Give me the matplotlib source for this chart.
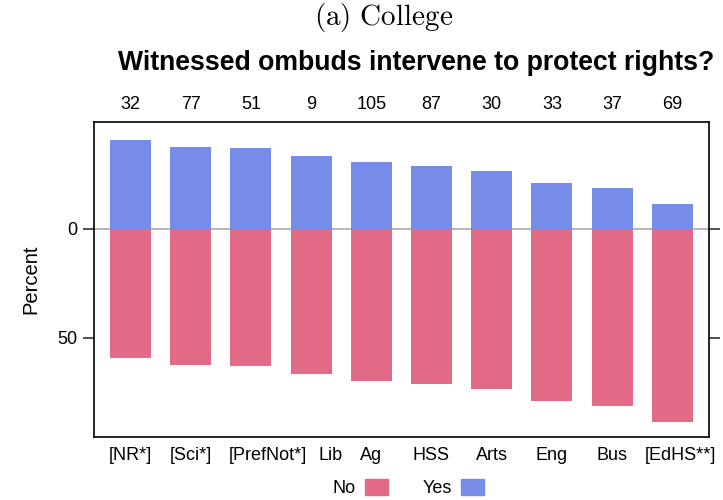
import numpy as np
import matplotlib.pyplot as plt
import matplotlib.transforms as mtransforms
from matplotlib.patches import Patch

plt.rcParams['font.family'] = ['Liberation Sans', 'DejaVu Sans']
plt.rcParams['mathtext.fontset'] = 'cm'

# data
colleges = ['[NR*]', '[Sci*]', '[PrefNot*]', 'Lib', 'Ag', 'HSS', 'Arts', 'Eng', 'Bus', '[EdHS**]']
counts = [32, 77, 51, 9, 105, 87, 30, 33, 37, 69]
yes_pct = [40.6, 37.7, 37.3, 33.3, 30.5, 28.7, 26.7, 21.2, 18.9, 11.6]
no_pct = [59.4, 62.3, 62.7, 66.7, 69.5, 71.3, 73.3, 78.8, 81.1, 88.4]

col_no = '#E16A86'
col_yes = '#778BE8'
fs = 13

fig = plt.figure(figsize=(7.23, 5), dpi=100)
ax = fig.add_axes([0.130, 0.126, 0.8506, 0.630])

x = np.arange(len(colleges))
ax.bar(x, yes_pct, width=0.68, color=col_yes, zorder=2)
ax.bar(x, -np.array(no_pct), width=0.68, color=col_no, zorder=2)
ax.axhline(0, color='#aaaaaa', lw=1.2, zorder=1)

ax.set_xlim(-0.606, 9.61)
ax.set_ylim(-95.4, 49)
ax.set_yticks([0, -50])
ax.set_yticklabels(['0', '50'], fontsize=fs)
ax.tick_params(axis='y', which='both', direction='out', length=8, width=1.2,
               color='#333333', right=True, labelright=False, pad=4)
ax.set_xticks(x)
ax.set_xticklabels(colleges, fontsize=fs)
ax.tick_params(axis='x', length=0, pad=7)

# the original nudges a few crowded labels to the right (in points)
nudge = [0, 0, 12, 14, 0, 0, 0, 0, 0, 6]
for lab, dx in zip(ax.get_xticklabels(), nudge):
    if dx:
        lab.set_transform(lab.get_transform() +
                          mtransforms.ScaledTranslation(dx / 72, 0, fig.dpi_scale_trans))

ax.set_ylabel('Percent', fontsize=14.5, labelpad=12)
for s in ax.spines.values():
    s.set_linewidth(1.2)

# counts along the top
for xi, n in zip(x, counts):
    ax.text(xi, 1.057, str(n), transform=ax.get_xaxis_transform(),
            ha='center', va='center', fontsize=fs)

fig.text(0.530, 0.964, r'$\mathrm{(a)\ College}$', ha='center', va='center', fontsize=21)
fig.text(0.576, 0.875, 'Witnessed ombuds intervene to protect rights?',
         ha='center', va='center', fontsize=19.2, fontweight='bold')

handles = [Patch(color=col_no, label='No'), Patch(color=col_yes, label='Yes')]
fig.legend(handles=handles, loc='center', bbox_to_anchor=(0.565, 0.024), ncol=2,
           frameon=False, markerfirst=False, fontsize=fs, handlelength=1.3,
           handleheight=0.95, columnspacing=1.9, handletextpad=0.5)

fig.savefig('out.png', dpi=100)
